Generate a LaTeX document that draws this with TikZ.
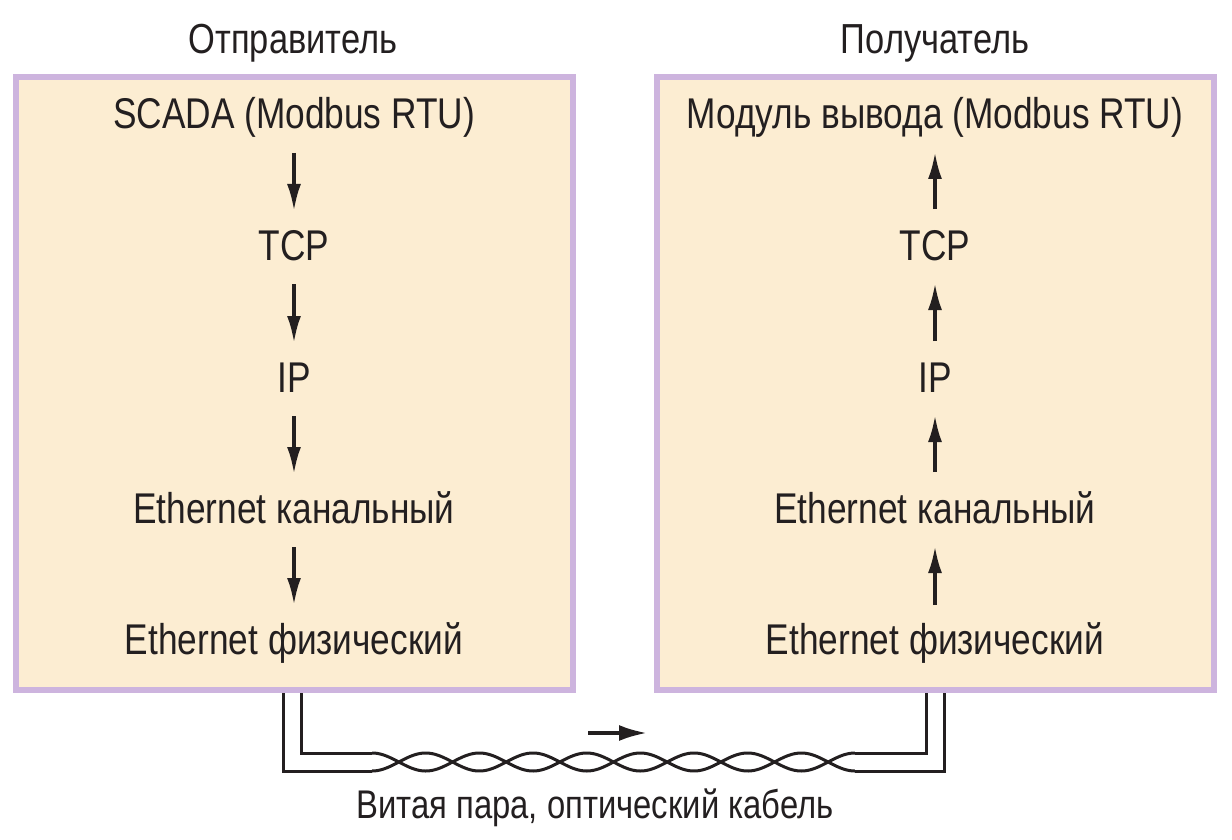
\documentclass[tikz,border=0pt]{standalone}
\usepackage{fontspec}
\setmainfont{Liberation Sans}[FakeStretch=0.82]
\usetikzlibrary{arrows.meta,calc}
\definecolor{boxborder}{RGB}{205,180,222}
\definecolor{boxfill}{RGB}{252,237,210}
\definecolor{ink}{RGB}{35,31,32}
\begin{document}
\begin{tikzpicture}[x=1pt,y=-1pt,
  box/.style={draw=boxborder,fill=boxfill,line width=6pt,minimum width=557pt,minimum height=613pt,inner sep=0pt},
  lbl/.style={anchor=base,inner sep=0pt,text=ink,font=\fontsize{43}{50}\selectfont},
  ttl/.style={anchor=base,inner sep=0pt,text=ink,font=\fontsize{42}{48}\selectfont},
  cbl/.style={anchor=base,inner sep=0pt,text=ink,font=\fontsize{40}{48}\selectfont},
  arr/.style={draw=ink,line width=3.5pt,-{Latex[length=27pt,width=14pt]}},
  wire/.style={draw=ink,line width=3pt,line join=miter}]
\useasboundingbox (0,0) rectangle (1232,840);
% boxes
\node[box] (lbox) at (294.5,383.5) {};
\node[box] (rbox) at (935.5,383.5) {};
% titles
\node[ttl] (lt) at (293,54) {Отправитель};
\node[ttl] (rt) at (935,54) {Получатель};
% left stack
\node[lbl] (l1) at (294,129) {SCADA (Modbus RTU)};
\node[lbl] (l2) at (294,260) {TCP};
\node[lbl] (l3) at (294,392) {IP};
\node[lbl] (l4) at (294,523) {Ethernet канальный};
\node[lbl] (l5) at (294,654) {Ethernet физический};
% right stack
\node[lbl] (r1) at (935,129) {Модуль вывода (Modbus RTU)};
\node[lbl] (r2) at (935,260) {TCP};
\node[lbl] (r3) at (935,392) {IP};
\node[lbl] (r4) at (935,523) {Ethernet канальный};
\node[lbl] (r5) at (935,654) {Ethernet физический};
% left arrows (down)
\draw[arr] ($(l1.base)+(0,24)$) -- ($(l2.base)+(0,-49)$);
\draw[arr] ($(l2.base)+(0,24)$) -- ($(l3.base)+(0,-49)$);
\draw[arr] ($(l3.base)+(0,24)$) -- ($(l4.base)+(0,-49)$);
\draw[arr] ($(l4.base)+(0,24)$) -- ($(l5.base)+(0,-49)$);
% right arrows (up)
\draw[arr] ($(r5.base)+(0,-49)$) -- ($(r4.base)+(0,23)$);
\draw[arr] ($(r4.base)+(0,-51)$) -- ($(r3.base)+(0,23)$);
\draw[arr] ($(r3.base)+(0,-51)$) -- ($(r2.base)+(0,23)$);
\draw[arr] ($(r2.base)+(0,-51)$) -- ($(r1.base)+(0,23)$);
% cable
\coordinate (lo) at (283,693);
\coordinate (li) at (301,693);
\coordinate (ri) at (926,693);
\coordinate (ro) at (944,693);
\coordinate (tws) at (372,762);
\coordinate (twe) at (855,762);
\draw[wire] (lo) |- ($(tws)+(0,9)$);
\draw[wire] (li) |- ($(tws)+(0,-9)$);
\draw[wire] (ri) |- ($(twe)+(0,-9)$);
\draw[wire] (ro) |- ($(twe)+(0,9)$);
\draw[wire] plot[domain=0:9,samples=300] ({372+53.667*\x},{762-9*cos(180*\x)});
\draw[wire] plot[domain=0:9,samples=300] ({372+53.667*\x},{762+9*cos(180*\x)});
\coordinate (as) at (588,733);
\coordinate (ae) at (647,733);
\draw[draw=ink,line width=3.5pt,-{Latex[length=28pt,width=16pt]}] (as) -- (ae);
\node[cbl] (cab) at (595,818) {Витая пара, оптический кабель};
\end{tikzpicture}
\end{document}
